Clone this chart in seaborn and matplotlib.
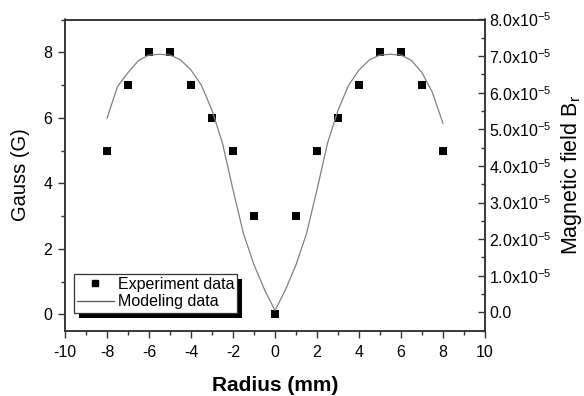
import numpy as np
import pandas as pd
import matplotlib
matplotlib.use("Agg")
import matplotlib.pyplot as plt
from matplotlib.ticker import MultipleLocator, FuncFormatter
from matplotlib.patches import Rectangle
from matplotlib.lines import Line2D
import seaborn as sns

# Experiment data (Gauss, left axis)
exp_radius = [-8, -7, -6, -5, -4, -3, -2, -1, 0, 1, 2, 3, 4, 5, 6, 7, 8]
exp_gauss = [5, 7, 8, 8, 7, 6, 5, 3, 0, 3, 5, 6, 7, 8, 8, 7, 5]

# Modeling data (magnetic field B_r, right axis, units of 1e-5)
model_radius = [-8.0, -7.5, -7.0, -6.5, -6.0, -5.5, -5.0, -4.5, -4.0, -3.5, -3.0, -2.5, -2.0,
                -1.5, -1.0, -0.5, 0.0, 0.5, 1.0, 1.5, 2.0, 2.5, 3.0, 3.5, 4.0, 4.5, 5.0,
                5.5, 6.0, 6.5, 7.0, 7.5, 8.0]
model_br_e5 = [5.30, 6.17, 6.55, 6.88, 7.03, 7.05, 7.03, 6.90, 6.62, 6.20, 5.52, 4.62, 3.35,
               2.15, 1.30, 0.62, 0.05, 0.62, 1.30, 2.15, 3.35, 4.62, 5.52, 6.20, 6.62, 6.90, 7.03,
               7.05, 7.03, 6.88, 6.55, 6.00, 5.16]

sns.set_style("ticks")
plt.rcParams['font.family'] = ['Liberation Sans', 'DejaVu Sans']
plt.rcParams['mathtext.fontset'] = 'custom'
plt.rcParams['mathtext.rm'] = 'Liberation Sans'
plt.rcParams['mathtext.it'] = 'Liberation Sans'
plt.rcParams['axes.unicode_minus'] = False
plt.rcParams['text.color'] = 'black'
plt.rcParams['axes.labelcolor'] = 'black'

spine_c = '#333333'

fig = plt.figure(figsize=(5.84, 3.96), dpi=100)
ax = fig.add_axes([65/584, 1-330.7/396, 420/584, (330.7-19.5)/396])
ax2 = ax.twinx()

df_exp = pd.DataFrame({'x': exp_radius, 'y': exp_gauss})
df_mod = pd.DataFrame({'x': model_radius, 'y': np.array(model_br_e5) * 1e-5})

sns.scatterplot(data=df_exp, x='x', y='y', ax=ax, marker='s', s=30, color='black',
                edgecolor='black', linewidth=0, zorder=3)
sns.lineplot(data=df_mod, x='x', y='y', ax=ax2, color='#808080', linewidth=0.9,
             sort=False, estimator=None)

ax.set_xlim(-10, 10)
ax.set_ylim(-0.5, 9)
ax2.set_ylim(-0.5e-5, 8e-5)

ax.xaxis.set_major_locator(MultipleLocator(2))
ax.xaxis.set_minor_locator(MultipleLocator(1))
ax.yaxis.set_major_locator(MultipleLocator(2))
ax.yaxis.set_minor_locator(MultipleLocator(1))
ax2.yaxis.set_major_locator(MultipleLocator(1e-5))
ax2.yaxis.set_minor_locator(MultipleLocator(0.5e-5))

def fmt(v, pos):
    m = v / 1e-5
    if abs(m) < 1e-9:
        return '0.0'
    return r'%.1fx10$^{-5}$' % m
ax2.yaxis.set_major_formatter(FuncFormatter(fmt))

for a in (ax, ax2):
    for s in a.spines.values():
        s.set_color(spine_c)
        s.set_linewidth(1.1)
        s.set_visible(True)

ax.tick_params(which='major', direction='out', length=5, width=1, color=spine_c,
               labelsize=11.5, labelcolor='black', pad=4)
ax.tick_params(which='minor', direction='out', length=3, width=1, color=spine_c)
ax.tick_params(axis='x', pad=5)
ax2.tick_params(which='major', direction='in', length=5, width=1, color=spine_c,
                labelsize=11.5, labelcolor='black', pad=3)
ax2.tick_params(which='minor', direction='in', length=3, width=1, color=spine_c)

ax.set_xlabel('Radius (mm)', fontsize=15, fontweight='bold', labelpad=12)
ax.set_ylabel('Gauss (G)', fontsize=14.5, labelpad=10)
ax2.set_ylabel(r'Magnetic field B$_{\mathregular{r}}$', fontsize=15.5, labelpad=5)

# Legend
handles = [Line2D([], [], marker='s', color='black', linestyle='none', markersize=5),
           Line2D([], [], color='#555555', linewidth=0.9)]
leg = ax.legend(handles, ['Experiment data', 'Modeling data'], loc='lower left',
                bbox_to_anchor=(0.021, 0.058), fontsize=11.5, frameon=True, fancybox=False,
                borderpad=0.2, labelspacing=0.15, handlelength=2.3, handletextpad=0.25,
                borderaxespad=0)
leg.get_frame().set_edgecolor('#333333')
leg.get_frame().set_linewidth(0.9)
leg.get_frame().set_alpha(1)
leg.set_zorder(10)

fig.canvas.draw()
bb = leg.get_window_extent()
shadow = Rectangle((bb.x0 + 5, bb.y0 - 5), bb.width, bb.height, transform=None,
                   facecolor='black', edgecolor='none', zorder=9)
shadow.set_clip_on(False)
ax.add_artist(shadow)

fig.savefig('out.png', dpi=100)
